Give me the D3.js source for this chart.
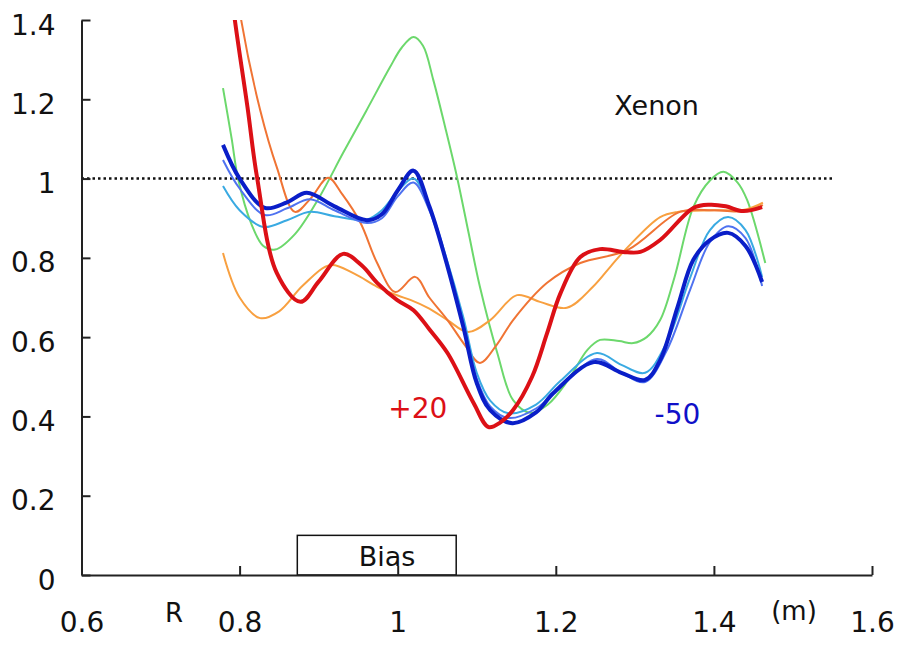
<!DOCTYPE html>
<html>
<head>
<meta charset="utf-8">
<script src="https://cdn.jsdelivr.net/npm/d3@7"></script>
<style>
  body { margin: 0; background: #fff; }
  text { font-family: "DejaVu Sans", Verdana, sans-serif; }
</style>
</head>
<body>
<div id="chart"></div>
<script>
const xTicks = [0.6, 0.8, 1.0, 1.2, 1.4, 1.6]
const yTicks = [0, 0.2, 0.4, 0.6, 0.8, 1.0, 1.2, 1.4]
const reference = 1.0
const biasRange = [0.873, 1.074]
const biasHeight = 0.1

// [R (m), normalised value]
const green = [[0.779,1.228],[0.79,1.10],[0.798,1.0],[0.815,0.885],[0.83,0.83],[0.845,0.821],[0.87,0.86],[0.90,0.95],[0.931,1.065],[0.96,1.17],[0.99,1.28],[1.005,1.33],[1.02,1.357],[1.032,1.335],[1.045,1.249],[1.06,1.13],[1.075,1.004],[1.09,0.86],[1.104,0.727],[1.126,0.56],[1.146,0.441],[1.168,0.409],[1.19,0.43],[1.215,0.49],[1.24,0.568],[1.256,0.593],[1.28,0.59],[1.298,0.585],[1.315,0.60],[1.332,0.643],[1.35,0.75],[1.374,0.928],[1.395,0.995],[1.412,1.017],[1.43,0.99],[1.442,0.946],[1.465,0.787]]
const lightOrange = [[0.779,0.812],[0.80,0.70],[0.826,0.648],[0.85,0.665],[0.88,0.73],[0.915,0.782],[0.945,0.76],[0.974,0.727],[1.0,0.705],[1.016,0.694],[1.04,0.672],[1.063,0.643],[1.089,0.613],[1.117,0.643],[1.151,0.706],[1.18,0.689],[1.214,0.674],[1.247,0.727],[1.27,0.78],[1.291,0.827],[1.332,0.903],[1.354,0.916],[1.40,0.92],[1.44,0.922],[1.462,0.939]]
const darkOrange = [[0.792,1.55],[0.802,1.40],[0.826,1.173],[0.847,1.029],[0.87,0.916],[0.89,0.95],[0.912,1.002],[0.93,0.96],[0.953,0.888],[0.974,0.787],[0.997,0.714],[1.022,0.752],[1.04,0.70],[1.063,0.643],[1.085,0.58],[1.104,0.535],[1.125,0.58],[1.146,0.643],[1.189,0.737],[1.231,0.787],[1.291,0.82],[1.357,0.916],[1.40,0.92],[1.44,0.918],[1.462,0.933]]
const lightBlue = [[0.779,0.981],[0.80,0.92],[0.83,0.878],[0.86,0.895],[0.889,0.916],[0.92,0.905],[0.96,0.896],[0.98,0.92],[1.0,0.968],[1.02,1.0],[1.04,0.93],[1.06,0.81],[1.083,0.65],[1.10,0.51],[1.117,0.44],[1.14,0.408],[1.175,0.43],[1.206,0.49],[1.252,0.56],[1.283,0.53],[1.313,0.51],[1.34,0.585],[1.37,0.75],[1.395,0.87],[1.418,0.903],[1.44,0.87],[1.461,0.752]]
const midBlue = [[0.779,1.047],[0.80,0.975],[0.832,0.908],[0.86,0.925],[0.889,0.948],[0.92,0.92],[0.961,0.888],[0.98,0.90],[1.0,0.955],[1.02,0.99],[1.04,0.92],[1.06,0.80],[1.083,0.635],[1.10,0.495],[1.117,0.425],[1.14,0.396],[1.175,0.42],[1.206,0.475],[1.252,0.545],[1.283,0.51],[1.313,0.487],[1.34,0.565],[1.37,0.72],[1.395,0.84],[1.418,0.88],[1.44,0.85],[1.461,0.729]]
const darkBlue = [[0.779,1.085],[0.80,1.0],[0.832,0.926],[0.86,0.94],[0.885,0.964],[0.92,0.93],[0.961,0.895],[0.98,0.91],[1.0,0.97],[1.02,1.02],[1.04,0.93],[1.06,0.80],[1.083,0.626],[1.10,0.484],[1.117,0.416],[1.145,0.383],[1.175,0.41],[1.197,0.459],[1.248,0.537],[1.283,0.51],[1.313,0.492],[1.332,0.542],[1.354,0.676],[1.374,0.795],[1.395,0.845],[1.418,0.863],[1.44,0.83],[1.461,0.739]]
const red = [[0.785,1.55],[0.794,1.40],[0.81,1.18],[0.822,1.004],[0.847,0.762],[0.877,0.689],[0.90,0.74],[0.931,0.81],[0.955,0.78],[0.974,0.737],[0.999,0.694],[1.02,0.668],[1.04,0.62],[1.063,0.56],[1.096,0.434],[1.115,0.373],[1.13,0.385],[1.146,0.416],[1.17,0.50],[1.189,0.61],[1.206,0.711],[1.231,0.802],[1.256,0.822],[1.285,0.815],[1.307,0.815],[1.332,0.845],[1.374,0.926],[1.395,0.934],[1.415,0.93],[1.437,0.918],[1.461,0.928]]

const width = 898
const height = 645

const series = [
  {points: green, color: '#6cd86c', width: 2},
  {points: lightOrange, color: '#f8a040', width: 2},
  {points: darkOrange, color: '#f07434', width: 2},
  {points: lightBlue, color: '#3aaae2', width: 2},
  {points: midBlue, color: '#4f72f0', width: 2},
  {points: darkBlue, color: '#0a1ec8', width: 4},
  {points: red, color: '#dc1016', width: 4}
]

const x = d3.scaleLinear().domain([0.6, 1.6]).range([81.5, 872])
const y = d3.scaleLinear().domain([0, 1.4]).range([575, 20])

const svg = d3.select('#chart')
              .append('svg')
              .attr('width', width)
              .attr('height', height)

svg.append('clipPath')
   .attr('id', 'plot-clip')
   .append('rect')
   .attr('x', x(0.6))
   .attr('y', y(1.4))
   .attr('width', x(1.6) - x(0.6))
   .attr('height', y(0) - y(1.4))

// bias box
svg.append('rect')
   .attr('x', x(biasRange[0]))
   .attr('y', y(biasHeight))
   .attr('width', x(biasRange[1]) - x(biasRange[0]))
   .attr('height', y(0) - y(biasHeight))
   .attr('fill', 'none')
   .attr('stroke', '#111')
   .attr('stroke-width', 1.5)

svg.append('text')
   .attr('x', 387)
   .attr('y', 566)
   .attr('text-anchor', 'middle')
   .attr('font-size', 27)
   .attr('fill', '#111')
   .text('Bias')

// reference line at 1
svg.append('line')
   .attr('x1', x(0.6))
   .attr('x2', x(1.552))
   .attr('y1', y(reference))
   .attr('y2', y(reference))
   .attr('stroke', '#111')
   .attr('stroke-width', 2.5)
   .attr('stroke-dasharray', '2.5,3')

const line = d3.line()
               .x(d => x(d[0]))
               .y(d => y(d[1]))
               .curve(d3.curveCatmullRom.alpha(0.5))

svg.append('g')
   .attr('clip-path', 'url(#plot-clip)')
   .selectAll('path')
   .data(series)
   .enter()
   .append('path')
   .attr('d', d => line(d.points))
   .attr('fill', 'none')
   .attr('stroke', d => d.color)
   .attr('stroke-width', d => d.width)
   .attr('stroke-linejoin', 'round')

// axes
const xAxis = svg.append('g')
                 .attr('transform', 'translate(0,' + y(0) + ')')
                 .call(d3.axisBottom(x).tickValues(xTicks).tickSize(-9).tickSizeOuter(0).tickPadding(37).tickFormat(d3.format('')))
const yAxis = svg.append('g')
                 .attr('transform', 'translate(' + x(0.6) + ',0)')
                 .call(d3.axisLeft(y).tickValues(yTicks).tickSize(-9).tickSizeOuter(0).tickPadding(26).tickFormat(d3.format('')))

svg.selectAll('.domain, .tick line')
   .attr('stroke', '#222')
   .attr('stroke-width', 2)

svg.selectAll('.tick text')
   .attr('font-family', '"DejaVu Sans", Verdana, sans-serif')
   .attr('font-size', 28)
   .attr('fill', '#111')
yAxis.selectAll('.tick text').attr('dy', '0.5em')

svg.append('text')
   .attr('x', 174)
   .attr('y', 622)
   .attr('text-anchor', 'middle')
   .attr('font-size', 26)
   .attr('fill', '#111')
   .text('R')

svg.append('text')
   .attr('x', 794)
   .attr('y', 620)
   .attr('text-anchor', 'middle')
   .attr('font-size', 26)
   .attr('fill', '#111')
   .text('(m)')

svg.append('text')
   .attr('x', x(1.274))
   .attr('y', y(1.16))
   .attr('font-size', 27)
   .attr('fill', '#111')
   .text('Xenon')

svg.append('text')
   .attr('x', x(0.988))
   .attr('y', y(0.395))
   .attr('font-size', 28)
   .attr('fill', '#dc1016')
   .text('+20')

svg.append('text')
   .attr('x', x(1.325))
   .attr('y', y(0.38))
   .attr('font-size', 28)
   .attr('fill', '#1010c8')
   .text('-50')
</script>
</body>
</html>
